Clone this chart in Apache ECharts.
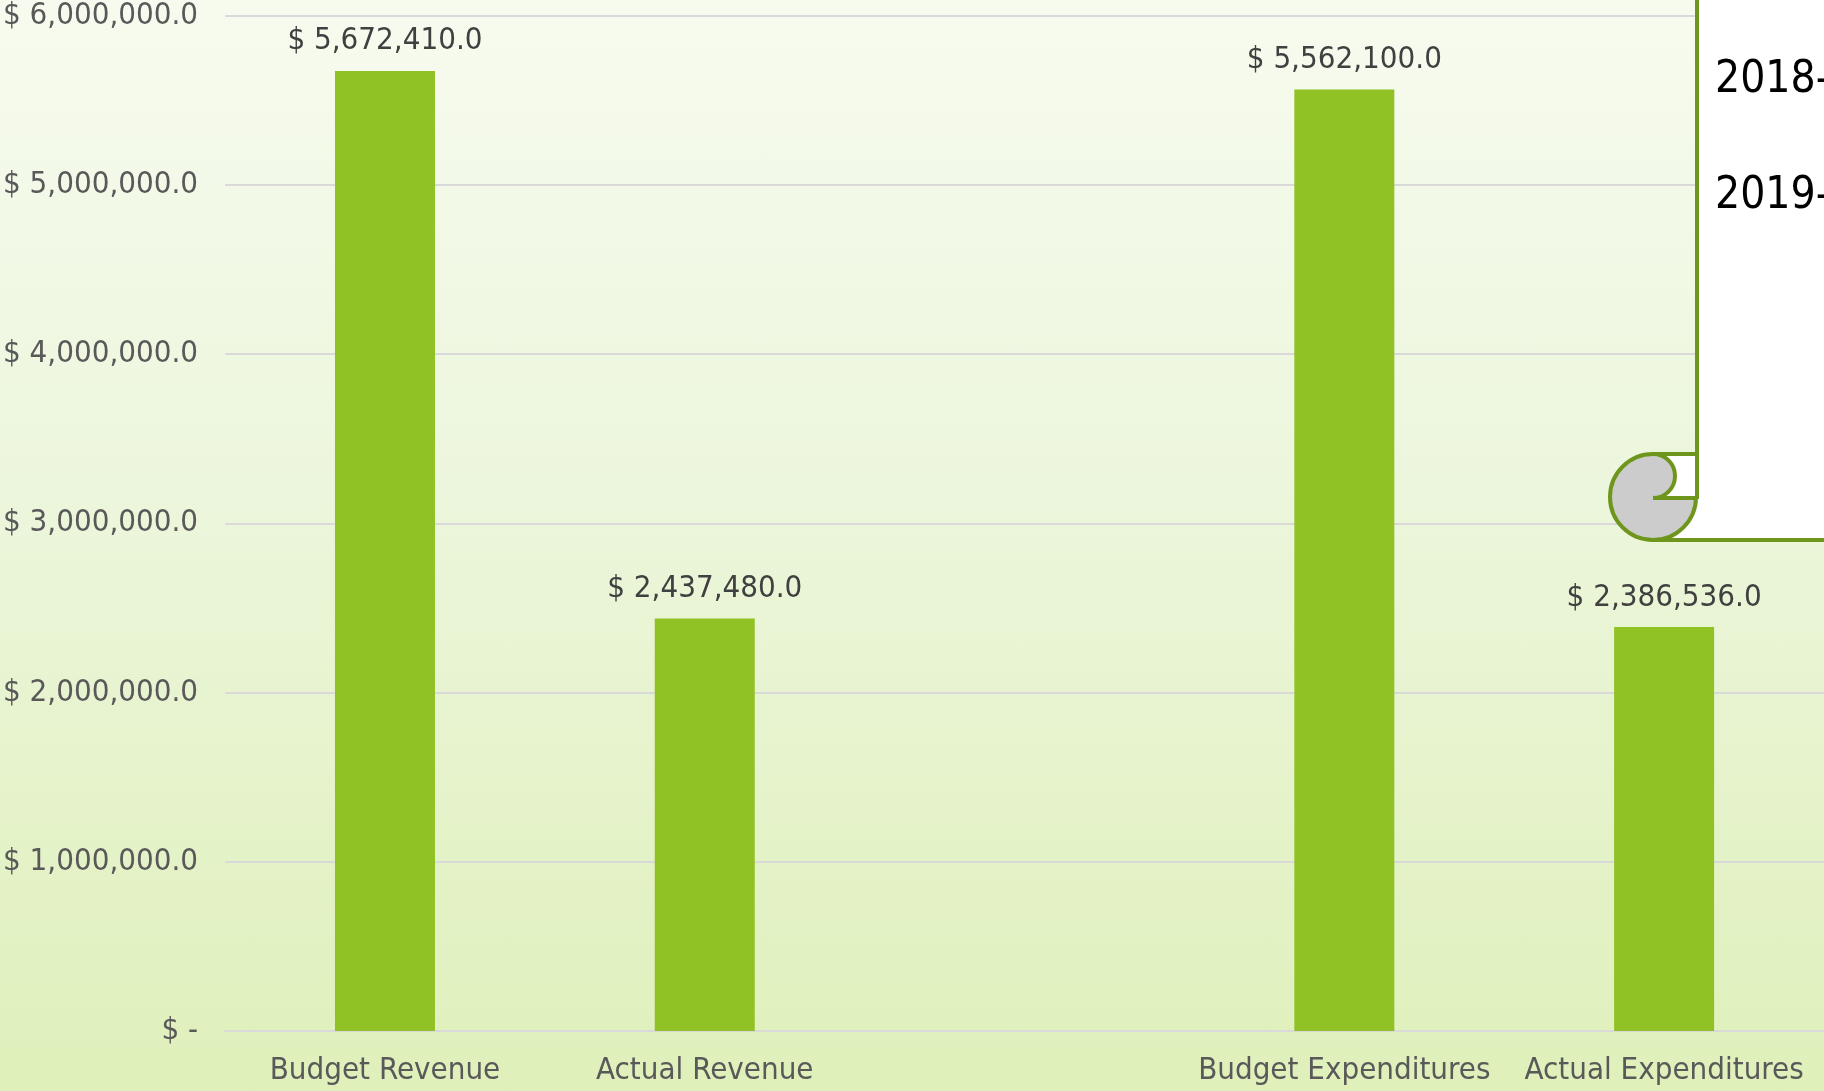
<!DOCTYPE html>
<html>
<head>
<meta charset="utf-8">
<script src="https://cdn.jsdelivr.net/npm/echarts@6/dist/echarts.min.js"></script>
<style>
  html, body { margin: 0; padding: 0; }
  #chart {
    width: 1824px;
    height: 1091px;
    background: linear-gradient(to bottom, #f7fbef 0%, #ecf6dc 45%, #dff0ba 100%);
  }
</style>
</head>
<body>
<div id="chart"></div>
<script>
// categories (one empty slot between revenue and expenditures)
const categories = ['Budget Revenue', 'Actual Revenue', '', 'Budget Expenditures', 'Actual Expenditures']
const amounts = [5672410, 2437480, '-', 5562100, 2386536]
const yTicks = [0, 1000000, 2000000, 3000000, 4000000, 5000000, 6000000]
const scrollLines = ['2018-', '2019-']

const FONT = '"DejaVu Sans Condensed", "Liberation Sans Narrow", "DejaVu Sans", sans-serif'
const GREEN = '#6f961c'

const money = (v) => {
  if (v === 0) return '$ -'
  return '$ ' + Number(v).toLocaleString('en-US', { minimumFractionDigits: 1, maximumFractionDigits: 1 })
}

const myEcharts = echarts.init(document.getElementById('chart'), null, { renderer: 'canvas' })

const option = {
  backgroundColor: 'transparent',
  animation: false,
  grid: {
    left: 225,
    right: -1,
    top: 15,
    bottom: 60
  },
  xAxis: {
    type: 'category',
    data: categories,
    axisTick: { show: false },
    axisLine: { show: true, lineStyle: { color: '#d9d9d9', width: 2 } },
    axisLabel: {
      interval: 0,
      margin: 24,
      fontSize: 31,
      fontFamily: FONT,
      color: '#595959'
    }
  },
  yAxis: {
    type: 'value',
    min: yTicks[0],
    max: yTicks[yTicks.length - 1],
    interval: yTicks[1] - yTicks[0],
    axisLine: { show: false },
    axisTick: { show: false },
    splitLine: { lineStyle: { color: '#d9d9d9', width: 2 } },
    axisLabel: {
      margin: 27,
      fontSize: 31,
      fontFamily: FONT,
      color: '#595959',
      formatter: money
    }
  },
  series: [
    {
      type: 'bar',
      data: amounts,
      barWidth: 100,
      itemStyle: { color: '#90c226' },
      label: {
        show: true,
        position: 'top',
        distance: 14,
        fontSize: 31,
        fontFamily: FONT,
        color: '#404040',
        formatter: (p) => money(p.value)
      }
    }
  ],
  // scroll shape sitting in the top right corner
  graphic: [
    { type: 'rect', z: 100, shape: { x: 1697, y: -10, width: 140, height: 550 }, style: { fill: '#fff' } },
    { type: 'rect', z: 100, shape: { x: 1653, y: 497, width: 60, height: 43 }, style: { fill: '#fff' } },
    {
      type: 'circle', z: 101,
      shape: { cx: 1653, cy: 497, r: 43 },
      style: { fill: '#cccccc', stroke: GREEN, lineWidth: 4 }
    },
    { type: 'rect', z: 102, shape: { x: 1653, y: 454, width: 44, height: 44 }, style: { fill: '#fff' } },
    {
      type: 'sector', z: 103,
      shape: { cx: 1653, cy: 476, r0: 0, r: 22, startAngle: -Math.PI / 2, endAngle: Math.PI / 2, clockwise: true },
      style: { fill: '#cccccc' }
    },
    {
      type: 'arc', z: 104,
      shape: { cx: 1653, cy: 476, r: 22, startAngle: -Math.PI / 2, endAngle: Math.PI / 2, clockwise: true },
      style: { fill: null, stroke: GREEN, lineWidth: 4 }
    },
    { type: 'line', z: 104, shape: { x1: 1653, y1: 454, x2: 1697, y2: 454 }, style: { stroke: GREEN, lineWidth: 4 } },
    { type: 'line', z: 104, shape: { x1: 1653, y1: 498, x2: 1697, y2: 498 }, style: { stroke: GREEN, lineWidth: 4 } },
    { type: 'line', z: 104, shape: { x1: 1697, y1: -10, x2: 1697, y2: 499 }, style: { stroke: GREEN, lineWidth: 4 } },
    { type: 'line', z: 104, shape: { x1: 1651, y1: 540, x2: 1830, y2: 540 }, style: { stroke: GREEN, lineWidth: 4 } },
    {
      type: 'text', z: 105, left: 1715, top: 59,
      style: { text: scrollLines[0], fontSize: 44, fontFamily: FONT, fill: '#000' }
    },
    {
      type: 'text', z: 105, left: 1715, top: 175,
      style: { text: scrollLines[1], fontSize: 44, fontFamily: FONT, fill: '#000' }
    }
  ]
}

myEcharts.setOption(option)
</script>
</body>
</html>
